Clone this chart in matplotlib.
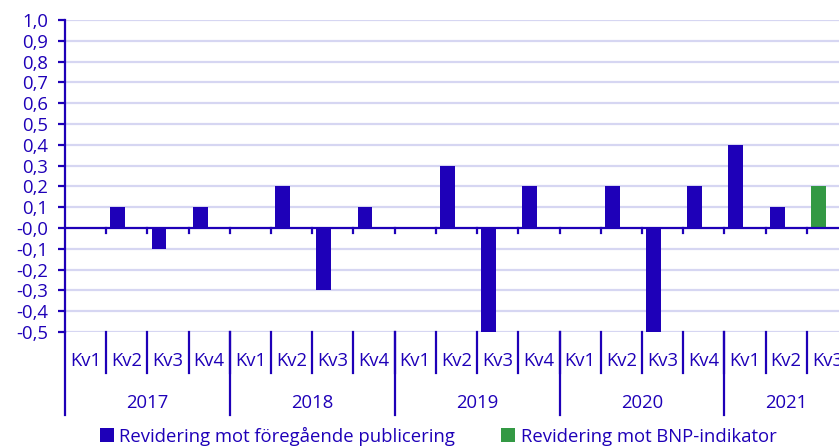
import numpy as np
import matplotlib
matplotlib.use("Agg")
import matplotlib.pyplot as plt
from matplotlib.patches import Patch

quarters = ["Kv1", "Kv2", "Kv3", "Kv4"] * 4 + ["Kv1", "Kv2", "Kv3"]
years = ["2017", "2018", "2019", "2020", "2021"]
quarters_per_year = [4, 4, 4, 4, 3]
prev_pub = [0.0, 0.1, -0.1, 0.1,
            0.0, 0.2, -0.3, 0.1,
            0.0, 0.3, -0.5, 0.2,
            0.0, 0.2, -0.5, 0.2,
            0.4, 0.1, np.nan]
bnp_ind = [np.nan] * 18 + [0.2]
yticks = np.round(np.arange(-0.5, 1.01, 0.1), 1)

BLUE = "#1E00B8"
GREEN = "#339944"
GRID = "#D6D6F2"
FS = 13.3

plt.rcParams["font.family"] = ["Open Sans", "DejaVu Sans"]

fig = plt.figure(figsize=(8.39, 4.46), dpi=100)
ax = fig.add_axes([65 / 839, 114 / 446, 783 / 839, 312 / 446])

x = np.arange(len(quarters))
ax.bar(x + 0.1, prev_pub, width=0.36, align="edge", color=BLUE, zorder=3)
ax.bar(x + 0.1, bnp_ind, width=0.36, align="edge", color=GREEN, zorder=3)

ax.set_xlim(0, len(quarters))
ax.set_ylim(-0.5, 1.0)
ax.set_yticks(yticks)
ax.set_yticklabels([f"{v:.1f}".replace(".", ",") for v in yticks])
for v in yticks:
    if v != 0:
        ax.axhline(v, color=GRID, lw=1.6, zorder=1)
ax.axhline(0, color=BLUE, lw=1.6, zorder=4)

for s in ["top", "right", "bottom"]:
    ax.spines[s].set_visible(False)
ax.spines["left"].set_color(BLUE)
ax.spines["left"].set_linewidth(1.6)
ax.tick_params(axis="y", colors=BLUE, length=5, width=1.6, pad=7, labelsize=FS)
ax.tick_params(axis="x", length=0, labelbottom=False)

# small ticks on the zero line at category boundaries
for b in range(1, len(quarters)):
    ax.plot([b, b], [0, -0.022], color=BLUE, lw=1.6, zorder=4, clip_on=False)

# multi-level category axis below the plot
tr = ax.get_xaxis_transform()
for i, q in enumerate(quarters):
    ax.text(i + 0.5, -0.092, q, transform=tr, ha="center", va="center",
            color=BLUE, fontsize=FS)
    if i > 0:
        ax.plot([i, i], [0, -0.131], transform=tr, color=BLUE, lw=1.6,
                clip_on=False)

start = 0
for yr, n in zip(years, quarters_per_year):
    ax.plot([start, start], [0, -0.266], transform=tr, color=BLUE, lw=1.6,
            clip_on=False)
    ax.text(start + n / 2, -0.226, yr, transform=tr, ha="center", va="center",
            color=BLUE, fontsize=FS)
    start += n

handles = [Patch(facecolor=BLUE, label="Revidering mot föregående publicering"),
           Patch(facecolor=GREEN, label="Revidering mot BNP-indikator")]
leg = fig.legend(handles=handles, loc="center", bbox_to_anchor=(438 / 839, 10 / 446),
                 ncol=2, frameon=False, handlelength=0.75, handleheight=0.75,
                 handletextpad=0.3, columnspacing=2.5, fontsize=FS)
for t in leg.get_texts():
    t.set_color(BLUE)

fig.savefig("out.png", dpi=100)
